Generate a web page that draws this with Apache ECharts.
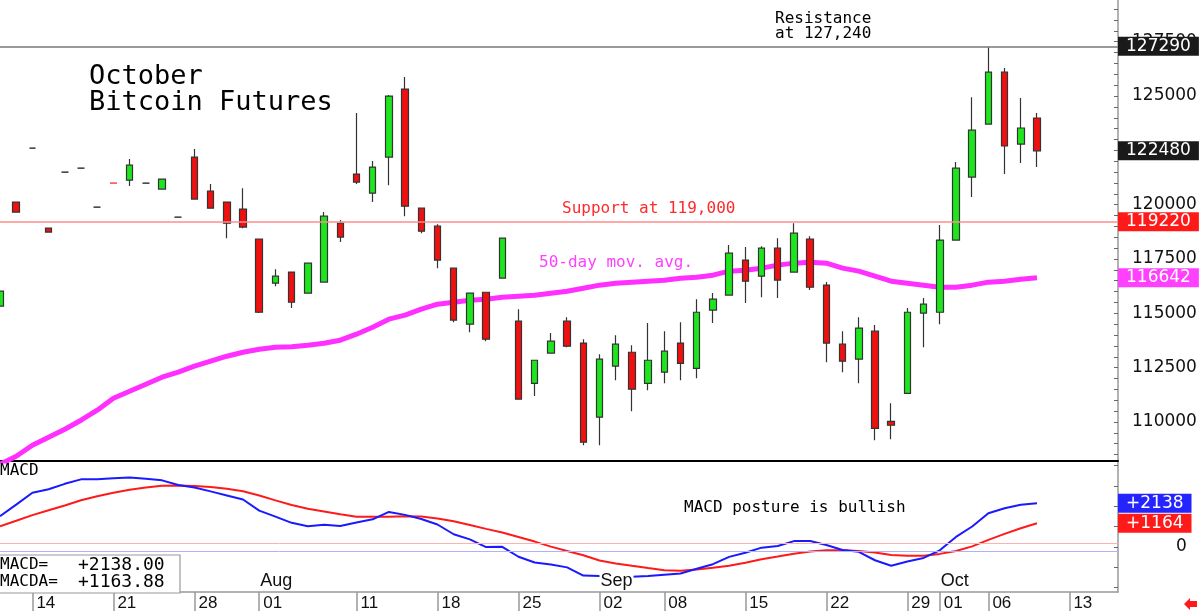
<!DOCTYPE html>
<html>
<head>
<meta charset="utf-8">
<script src="https://cdn.jsdelivr.net/npm/echarts@6/dist/echarts.min.js"></script>
<style>
  html, body { margin: 0; padding: 0; background: #fff; }
  #chart { width: 1200px; height: 612px; }
</style>
</head>
<body>
<div id="chart"></div>
<script>
// trading days shown on the axis (Jul 10 .. Oct 16)
const days = ['07-10','07-11','07-14','07-15','07-16','07-17','07-18','07-21','07-22','07-23','07-24','07-25','07-28','07-29','07-30','07-31',
  '08-01','08-04','08-05','08-06','08-07','08-08','08-11','08-12','08-13','08-14','08-15','08-18','08-19','08-20','08-21','08-22','08-25','08-26','08-27','08-28','08-29',
  '09-02','09-03','09-04','09-05','09-08','09-09','09-10','09-11','09-12','09-15','09-16','09-17','09-18','09-19','09-22','09-23','09-24','09-25','09-26','09-29','09-30',
  '10-01','10-02','10-03','10-06','10-07','10-08','10-09','10-10','10-13','10-14','10-15','10-16'];
const tickDays = ['07-14','07-21','07-28','08-01','08-11','08-18','08-25','09-02','09-08','09-15','09-22','09-29','10-01','10-06','10-13'];
const monthDays = ['08-01','09-02','10-01'];
const monthNames = ['Aug','Sep','Oct'];

const opens = [115330,120120,122600,118920,121500,121680,119890,121000,121130,120990,
  120720,119430,122190,120630,120120,119800,118420,116390,116900,115930,
  116440,119150,121410,120530,122190,125320,119840,119010,117080,114500,
  115970,116620,114640,111780,113170,114640,113630,110220,112570,113210,
  111780,112290,113630,112470,115150,115840,117450,116710,118000,116900,
  118420,116300,113580,112890,114180,110030,111320,115010,115050,118370,
  121270,123710,126100,122790,123990];
const closes = [116020,119660,122600,118740,121500,121680,119890,120990,121820,120990,
  121180,119430,120260,119840,119150,118970,115050,116710,115510,117310,
  119470,118510,121040,121730,125000,119930,118780,117450,114690,115930,
  113810,118460,111050,112840,113720,113490,109070,112890,113580,111510,
  112840,113260,112700,115050,115650,117770,116480,118000,116530,118690,
  116200,113630,112800,114320,109710,109850,115050,115420,118370,121680,
  123430,126100,122700,123530,122480];
const lows = [115330,119660,122600,118740,121500,121680,119890,120990,120860,120990,
  120720,119430,120260,119840,118460,118920,115010,116250,115240,115930,
  116440,118280,120950,120120,120900,119470,118690,117080,114590,114130,
  113720,116620,111050,111190,113170,113440,108930,108930,111920,110490,
  111460,111780,111920,112010,114550,115840,115470,115740,115700,116900,
  116070,112750,112290,111780,109160,109200,111320,113440,114500,118370,
  120350,123710,121410,121920,121730];
const highs = [116020,120120,122600,118920,121500,121680,119890,121000,122100,120990,
  121180,119430,122560,120950,120120,120760,118420,117030,116900,117310,
  119660,119290,124220,122010,125050,125880,119840,119100,117080,115930,
  115970,118460,115190,112840,114090,114820,113810,113120,113990,113530,
  114550,114180,114590,115650,115930,118140,118050,118090,118460,119150,
  118550,116440,114180,114820,114460,110860,115240,115700,119060,121960,
  124950,127240,126290,124910,124220];
const ma50 = [108054,108422,108929,109297,109665,110080,110540,111093,111415,111738,
  112060,112290,112566,112797,113027,113211,113349,113441,113460,113534,
  113626,113764,114040,114362,114731,114915,115191,115422,115514,115606,
  115652,115744,115790,115836,115928,116020,116158,116297,116389,116435,
  116481,116527,116619,116665,116757,116941,116987,117079,117218,117310,
  117356,117310,117079,116941,116711,116481,116389,116297,116204,116204,
  116297,116435,116481,116573,116642];
const macd = [1505,2075,2659,2829,3097,3316,3326,3365,3404,3341,
  3268,3039,2917,2727,2528,2328,1782,1490,1183,1018,
  1086,1023,1198,1354,1719,1573,1368,1101,623,370,
  -5,5,-482,-765,-862,-1003,-1407,-1432,-1446,-1461,
  -1422,-1359,-1300,-1067,-847,-487,-287,-34,44,287,
  287,93,-151,-239,-653,-920,-716,-541,-166,492,
  1003,1651,1899,2075,2138];
const macdAvg = [1018,1286,1563,1797,2036,2294,2489,2659,2805,2912,
  3000,3015,2985,2941,2854,2732,2523,2284,2055,1870,
  1743,1607,1476,1476,1480,1500,1490,1393,1261,1076,
  886,706,487,263,15,-195,-409,-662,-808,-925,
  -1037,-1140,-1174,-1110,-1018,-925,-774,-604,-472,-336,
  -224,-166,-166,-195,-278,-394,-433,-438,-341,-200,
  29,346,643,916,1163.88];

const priceLabels = [110000,112500,115000,117500,120000,122500,125000,127500];
const macdLabels = [0];
const macdTicks = [-2000,-1000,0,1000,2000,3000,4000];
const resistance = 127290;
const support = 119220;
const macdUpper = 175;
const macdLower = -215;
const redDashIndex = 7;

const priceMin = 108204, priceMax = 129420;
const macdMin = -2211, macdMax = 4217;

const MONO = '"DejaVu Sans Mono", monospace';
const SANS = '"DejaVu Sans", sans-serif';
const DATEFONT = '"Liberation Sans", Arial, sans-serif';
const HIDDEN = { color: 'rgba(0,0,0,0)', width: 0 };

let priceTicks = [];
for (let v = 108500; v <= 129000; v += 500) priceTicks.push(v);

const lastClose = closes[closes.length - 1];
const lastMa = ma50[ma50.length - 1];
const lastMacd = macd[macd.length - 1];
const lastAvg = macdAvg[macdAvg.length - 1];
const signed = (v, d) => (v >= 0 ? '+' : '') + v.toFixed(d);

const candles = opens.map((o, i) => {
  const item = { value: [o, closes[i], lows[i], highs[i]] };
  if (i === redDashIndex) item.itemStyle = { borderColor0: '#ff4040' };
  return item;
});

function boxLabel(bg, text) {
  return {
    show: true,
    position: 'end',
    distance: 0,
    formatter: () => text,
    backgroundColor: bg,
    color: '#fff',
    opacity: 1,
    fontFamily: SANS,
    fontSize: 17,
    lineHeight: 17,
    padding: [1, 8, 1, 8],
  };
}

const chart = echarts.init(document.getElementById('chart'), null, { renderer: 'canvas' });

const option = {
  animation: false,
  backgroundColor: '#fff',
  grid: [
    { left: 0, top: 0, width: 1118, height: 461 },
    { left: 0, top: 461, width: 1118, height: 132 },
  ],
  xAxis: [
    {
      type: 'category', gridIndex: 0, data: days, boundaryGap: false, position: 'bottom',
      axisLine: { onZero: false, lineStyle: { color: '#000', width: 2 } },
      axisTick: { show: false }, axisLabel: { show: false }, splitLine: { show: false },
    },
    {
      type: 'category', gridIndex: 1, data: days, boundaryGap: false, position: 'bottom',
      axisLine: { onZero: false, lineStyle: { color: '#999', width: 1.5 } },
      axisTick: {
        interval: (i, v) => tickDays.includes(v),
        length: 19,
        lineStyle: { color: '#999', width: 1.5 },
      },
      axisLabel: {
        interval: (i, v) => tickDays.includes(v),
        formatter: (v) => v.slice(3),
        align: 'left',
        padding: [0, 0, 0, 4],
        margin: 3,
        color: '#111',
        fontFamily: DATEFONT,
        fontSize: 17,
      },
      splitLine: { show: false },
    },
    {
      type: 'category', gridIndex: 1, data: days, boundaryGap: false, position: 'bottom', z: 5,
      axisLine: { show: false, onZero: false }, axisTick: { show: false }, splitLine: { show: false },
      axisLabel: {
        inside: true,
        interval: (i, v) => monthDays.includes(v),
        formatter: (v) => monthNames[monthDays.indexOf(v)],
        align: 'left',
        margin: 2,
        padding: [0, 1, 0, 1],
        backgroundColor: '#fff',
        color: '#111',
        fontFamily: DATEFONT,
        fontSize: 18,
      },
    },
  ],
  yAxis: [
    {
      type: 'value', gridIndex: 0, position: 'right', min: priceMin, max: priceMax,
      axisLine: { show: true, lineStyle: { color: '#999', width: 1.5 } },
      axisTick: { show: true, inside: true, length: 4, customValues: priceTicks, lineStyle: { color: '#666' } },
      axisLabel: { customValues: priceLabels, formatter: (v) => String(v), margin: 14, color: '#111', fontFamily: SANS, fontSize: 17 },
      splitLine: { show: false },
    },
    {
      type: 'value', gridIndex: 1, position: 'right', min: macdMin, max: macdMax,
      axisLine: { show: true, lineStyle: { color: '#999', width: 1.5 } },
      axisTick: { show: true, inside: true, length: 4, customValues: macdTicks, lineStyle: { color: '#666' } },
      axisLabel: { customValues: macdLabels, formatter: (v) => String(v), margin: 58, color: '#111', fontFamily: SANS, fontSize: 17 },
      splitLine: { show: false },
    },
  ],
  series: [
    {
      name: '50-day', type: 'line', xAxisIndex: 0, yAxisIndex: 0, data: ma50,
      symbol: 'none', z: 1,
      lineStyle: { color: '#ff30ff', width: 5 },
      markLine: {
        symbol: 'none', silent: true,
        data: [{ yAxis: lastMa, lineStyle: HIDDEN, label: boxLabel('#ff40ff', String(lastMa)) }],
      },
    },
    {
      name: 'Price', type: 'candlestick', xAxisIndex: 0, yAxisIndex: 0, data: candles,
      barWidth: 7, z: 3,
      itemStyle: {
        color: '#1ee61e', color0: '#f01010',
        borderColor: '#333', borderColor0: '#333', borderColorDoji: '#111',
        borderWidth: 1.2,
      },
      markLine: {
        symbol: 'none', silent: true,
        data: [
          { yAxis: resistance, lineStyle: { color: '#777', width: 1.5, type: 'solid' }, label: boxLabel('#1a1a1a', String(resistance)) },
          { yAxis: support, lineStyle: { color: '#ff8c8c', width: 1.5, type: 'solid' }, label: boxLabel('#ff1a1a', String(support)) },
          { yAxis: lastClose, lineStyle: HIDDEN, label: boxLabel('#1a1a1a', String(lastClose)) },
        ],
      },
    },
    {
      name: 'MACD', type: 'line', xAxisIndex: 1, yAxisIndex: 1, data: macd,
      symbol: 'none', z: 3,
      lineStyle: { color: '#1a1aff', width: 2 },
      markLine: {
        symbol: 'none', silent: true,
        data: [
          { yAxis: macdUpper, lineStyle: { color: '#ffb0b0', width: 1, type: 'solid' }, label: { show: false } },
          { yAxis: macdLower, lineStyle: { color: '#b0b0ff', width: 1, type: 'solid' }, label: { show: false } },
          { yAxis: lastMacd, lineStyle: HIDDEN, label: boxLabel('#2424ff', signed(lastMacd, 0)) },
        ],
      },
    },
    {
      name: 'MACDA', type: 'line', xAxisIndex: 1, yAxisIndex: 1, data: macdAvg,
      symbol: 'none', z: 2,
      lineStyle: { color: '#ff1a1a', width: 2 },
      markLine: {
        symbol: 'none', silent: true,
        data: [{ yAxis: lastAvg, lineStyle: HIDDEN, label: boxLabel('#ff1a1a', signed(lastAvg, 0)) }],
      },
    },
  ],
  graphic: [
    { type: 'text', x: 89, y: 77, z: 10, style: { text: 'October', font: '27px ' + MONO, fill: '#000', verticalAlign: 'middle' } },
    { type: 'text', x: 89, y: 103, z: 10, style: { text: 'Bitcoin Futures', font: '27px ' + MONO, fill: '#000', verticalAlign: 'middle' } },
    { type: 'text', x: 775, y: 19, z: 10, style: { text: 'Resistance', font: '16px ' + MONO, fill: '#000', verticalAlign: 'middle' } },
    { type: 'text', x: 775, y: 34, z: 10, style: { text: 'at 127,240', font: '16px ' + MONO, fill: '#000', verticalAlign: 'middle' } },
    { type: 'text', x: 562, y: 209, z: 10, style: { text: 'Support at 119,000', font: '16px ' + MONO, fill: '#ff2a2a', verticalAlign: 'middle' } },
    { type: 'text', x: 539, y: 263, z: 10, style: { text: '50-day mov. avg.', font: '16px ' + MONO, fill: '#ff40ff', verticalAlign: 'middle' } },
    { type: 'text', x: 684, y: 508, z: 10, style: { text: 'MACD posture is bullish', font: '16px ' + MONO, fill: '#000', verticalAlign: 'middle' } },
    { type: 'text', x: 0, y: 471, z: 10, style: { text: 'MACD', font: '16px ' + MONO, fill: '#000', verticalAlign: 'middle' } },
    { type: 'rect', z: 10, shape: { x: -2, y: 555, width: 182, height: 38 }, style: { fill: '#fff', stroke: '#999', lineWidth: 1.2 } },
    { type: 'text', x: 0, y: 565, z: 11, style: { text: 'MACD=', font: '16px ' + MONO, fill: '#000', verticalAlign: 'middle' } },
    { type: 'text', x: 78, y: 565, z: 11, style: { text: signed(lastMacd, 2), font: '18px ' + MONO, fill: '#000', verticalAlign: 'middle' } },
    { type: 'text', x: 0, y: 582, z: 11, style: { text: 'MACDA=', font: '16px ' + MONO, fill: '#000', verticalAlign: 'middle' } },
    { type: 'text', x: 78, y: 582, z: 11, style: { text: signed(lastAvg, 2), font: '18px ' + MONO, fill: '#000', verticalAlign: 'middle' } },
    { type: 'polygon', z: 10, shape: { points: [[1184, 604], [1190, 598], [1190, 601], [1197, 601], [1197, 607], [1190, 607], [1190, 610]] }, style: { fill: '#ff1a1a' } },
  ],
};

chart.setOption(option);
window.addEventListener('resize', chart.resize);
</script>
</body>
</html>
